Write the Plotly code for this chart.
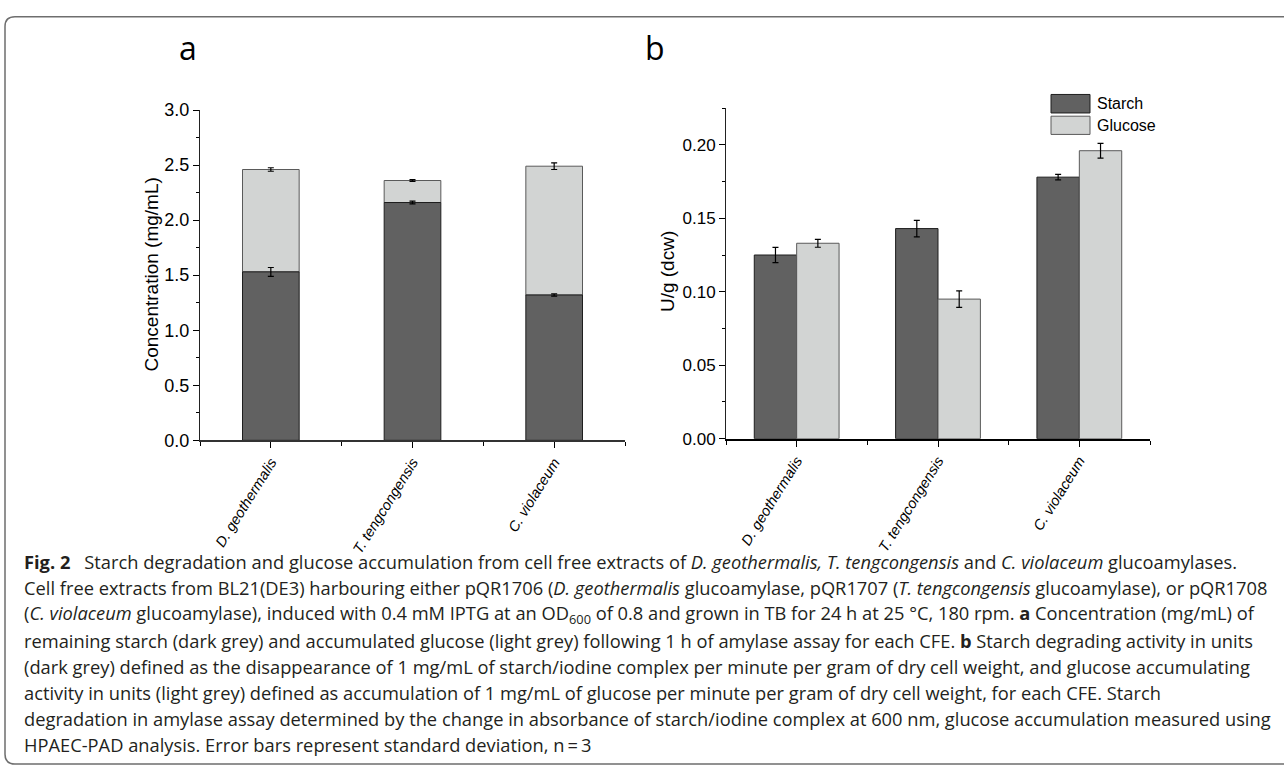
import plotly.graph_objects as go

# ---------------- data ----------------
categories = ["D. geothermalis", "T. tengcongensis", "C. violaceum"]

# panel a: concentration (mg/mL), stacked
starch_conc = [1.53, 2.16, 1.32]
starch_conc_err = [0.04, 0.012, 0.01]
glucose_conc = [0.93, 0.20, 1.17]
glucose_conc_err = [0.016, 0.008, 0.03]

# panel b: activity U/g (dcw), grouped
starch_act = [0.125, 0.143, 0.178]
starch_act_err = [0.0052, 0.0056, 0.0019]
glucose_act = [0.133, 0.095, 0.196]
glucose_act_err = [0.0027, 0.0056, 0.005]

series_names = ["Starch", "Glucose"]

caption_lines = [
    "<b>Fig. 2</b>\u2002 Starch degradation and glucose accumulation from cell free extracts of <i>D. geothermalis, T. tengcongensis</i> and <i>C. violaceum</i> glucoamylases.",
    "Cell free extracts from BL21(DE3) harbouring either pQR1706 (<i>D. geothermalis</i> glucoamylase, pQR1707 (<i>T. tengcongensis</i> glucoamylase), or pQR1708",
    "(<i>C. violaceum</i> glucoamylase), induced with 0.4 mM IPTG at an OD<sub>600</sub> of 0.8 and grown in TB for 24 h at 25 °C, 180 rpm. <b>a</b> Concentration (mg/mL) of",
    "remaining starch (dark grey) and accumulated glucose (light grey) following 1 h of amylase assay for each CFE. <b>b</b> Starch degrading activity in units",
    "(dark grey) defined as the disappearance of 1 mg/mL of starch/iodine complex per minute per gram of dry cell weight, and glucose accumulating",
    "activity in units (light grey) defined as accumulation of 1 mg/mL of glucose per minute per gram of dry cell weight, for each CFE. Starch",
    "degradation in amylase assay determined by the change in absorbance of starch/iodine complex at 600 nm, glucose accumulation measured using",
    "HPAEC-PAD analysis. Error bars represent standard deviation, n\u2009=\u20093",
]

# ---------------- style ----------------
W, H = 1284, 776
DARK = "#616161"
LIGHT = "#d2d4d3"
DARK_EDGE = "#1e1e1e"
LIGHT_EDGE = "#5a5a5a"
AX_FONT = "Liberation Sans, Arial, sans-serif"
CAP_FONT = "Open Sans, Noto Sans, sans-serif"


def px(x):
    return x / W


def py(y):
    return 1 - y / H


xs = list(range(len(categories)))
ticktext = ["<i>%s</i>" % c for c in categories]

fig = go.Figure()

err_style = dict(type="data", color="black", thickness=1.2, width=3)

# panel a (glucose first so starch error bars stay visible)
fig.add_trace(go.Bar(
    x=xs, y=glucose_conc, base=starch_conc, width=0.4, name=series_names[1],
    marker=dict(color=LIGHT, line=dict(color=LIGHT_EDGE, width=1)),
    error_y=dict(array=glucose_conc_err, **err_style),
    xaxis="x", yaxis="y", showlegend=False))
fig.add_trace(go.Bar(
    x=xs, y=starch_conc, width=0.4, name=series_names[0],
    marker=dict(color=DARK, line=dict(color=DARK_EDGE, width=1)),
    error_y=dict(array=starch_conc_err, **err_style),
    xaxis="x", yaxis="y", showlegend=False))

# panel b
fig.add_trace(go.Bar(
    x=xs, y=starch_act, width=0.3, offset=-0.3, name=series_names[0],
    marker=dict(color=DARK, line=dict(color=DARK_EDGE, width=1)),
    error_y=dict(array=starch_act_err, **err_style),
    xaxis="x2", yaxis="y2", showlegend=False))
fig.add_trace(go.Bar(
    x=xs, y=glucose_act, width=0.3, offset=0, name=series_names[1],
    marker=dict(color=LIGHT, line=dict(color=LIGHT_EDGE, width=1)),
    error_y=dict(array=glucose_act_err, **err_style),
    xaxis="x2", yaxis="y2", showlegend=False))

xcommon = dict(
    range=[-0.5, 2.5], tickmode="array", tickvals=xs, ticktext=ticktext,
    tickangle=-58, ticks="outside", ticklen=6, tickwidth=1, tickcolor="black",
    showline=True, linewidth=1.8, showgrid=False, zeroline=False,
    tickfont=dict(family=AX_FONT, size=14.5, color="black"),
    minor=dict(tickmode="linear", tick0=0.5, dtick=1, ticks="outside",
               ticklen=4, tickwidth=1, tickcolor="black"),
    fixedrange=True,
)
ycommon = dict(
    ticks="outside", ticklen=6, tickwidth=1, tickcolor="black",
    showline=True, linecolor="#222", linewidth=1, showgrid=False, zeroline=False,
    fixedrange=True,
)

fig.update_layout(
    width=W, height=H, margin=dict(l=0, r=0, t=0, b=0),
    paper_bgcolor="white", plot_bgcolor="white",
    barmode="overlay",
    xaxis=dict(domain=[px(200), px(625)], anchor="y", linecolor="#333", **xcommon),
    yaxis=dict(domain=[py(441.7), py(102.7)], anchor="x", range=[0, 3],
               tickmode="linear", tick0=0, dtick=0.5, tickformat=".1f",
               tickfont=dict(family=AX_FONT, size=18, color="black"),
               minor=dict(tickmode="linear", tick0=0, dtick=0.25, ticks="outside",
                          ticklen=3, tickwidth=1, tickcolor="black"),
               **ycommon),
    xaxis2=dict(domain=[px(726), px(1150)], anchor="y2", linecolor="black", **xcommon),
    yaxis2=dict(domain=[py(440), py(100.7)], anchor="x2", range=[0, 0.225],
                tickmode="linear", tick0=0, dtick=0.05, tickformat=".2f",
                tickfont=dict(family=AX_FONT, size=17, color="black"),
                minor=dict(tickmode="linear", tick0=0, dtick=0.025, ticks="outside",
                           ticklen=3, tickwidth=1, tickcolor="black"),
                **ycommon),
)

annotations = []
# axis titles
annotations.append(dict(text="Concentration (mg/mL)", x=px(152), y=py(271.5),
                        xref="paper", yref="paper", textangle=-90, showarrow=False,
                        xanchor="center", yanchor="middle",
                        font=dict(family=AX_FONT, size=19, color="black")))
annotations.append(dict(text="U/g (dcw)", x=px(667), y=py(269),
                        xref="paper", yref="paper", textangle=-90, showarrow=False,
                        xanchor="center", yanchor="middle",
                        font=dict(family=AX_FONT, size=19, color="black")))
# panel labels
for lab, xx in (("a", 188), ("b", 655)):
    annotations.append(dict(text=lab, x=px(xx), y=py(38), xref="paper", yref="paper",
                            showarrow=False, xanchor="center", yanchor="middle",
                            font=dict(family=CAP_FONT, size=32, color="black")))

# legend (manual, panel b)
shapes = []
leg_items = [(series_names[0], DARK, DARK_EDGE, 86.7, 105.7),
             (series_names[1], LIGHT, LIGHT_EDGE, 109.0, 127.7)]
for name, col, edge, y0, y1 in leg_items:
    shapes.append(dict(type="rect", xref="paper", yref="paper",
                       x0=px(1051), x1=px(1090), y0=py(y1), y1=py(y0),
                       fillcolor=col, line=dict(color=edge, width=1)))
    annotations.append(dict(text=name, x=px(1095), y=py((y0 + y1) / 2),
                            xref="paper", yref="paper", showarrow=False,
                            xanchor="left", yanchor="middle",
                            font=dict(family=AX_FONT, size=16, color="black")))

# caption
for i, line in enumerate(caption_lines):
    annotations.append(dict(text=line, x=px(22), y=py(566 + 26.9 * i),
                            xref="paper", yref="paper", showarrow=False,
                            xanchor="left", yanchor="middle", align="left",
                            font=dict(family=CAP_FONT, size=18.3, color="#231f20")))

# rounded frame
L, T, B, R, r = 5, 7, 774, 1320, 10
path = ("M{a},{b} L{c},{b} Q{d},{b} {d},{e} L{d},{f} Q{d},{g} {c},{g} L{a},{g}"
        .format(a=px(R), b=py(T), c=px(L + r), d=px(L), e=py(T + r),
                f=py(B - r), g=py(B)))
shapes.append(dict(type="path", xref="paper", yref="paper", path=path,
                   line=dict(color="#6e6e6e", width=1.5)))

fig.update_layout(annotations=annotations, shapes=shapes)

fig.write_html("out.html")
